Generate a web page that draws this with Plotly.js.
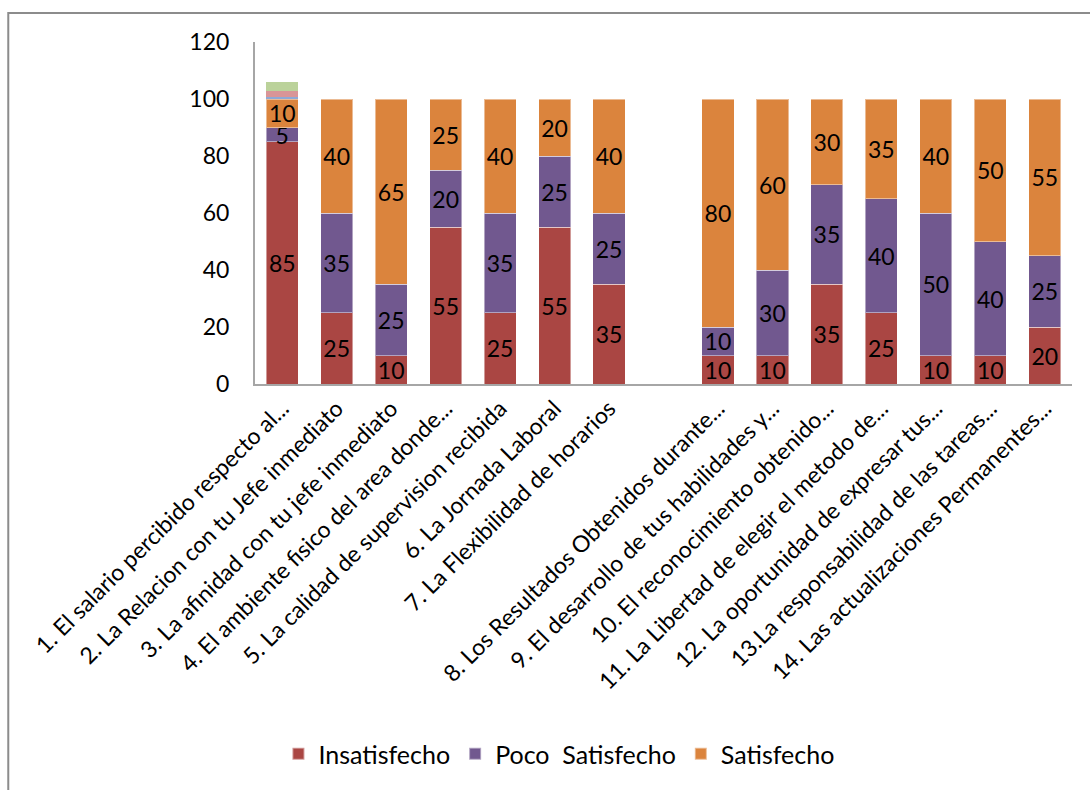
<!DOCTYPE html>
<html>
<head>
<meta charset="utf-8">
<script src="https://cdn.plot.ly/plotly-3.0.1.min.js"></script>
<style>html,body{margin:0;padding:0;background:#fff;}#chart{width:1090px;height:790px;}</style>
</head>
<body>
<div id="chart"></div>
<script>
var categories = [
  "1. El salario percibido respecto al...",
  "2. La Relacion con tu Jefe inmediato",
  "3. La afinidad con tu jefe inmediato",
  "4. El ambiente fisico del area donde...",
  "5. La calidad de supervision recibida",
  "6. La Jornada Laboral",
  "7. La Flexibilidad de horarios",
  " ",
  "8. Los Resultados Obtenidos durante...",
  "9. El desarrollo de tus habilidades y...",
  "10. El reconocimiento obtenido...",
  "11. La Libertad de elegir el metodo de...",
  "12. La oportunidad de expresar tus...",
  "13.La responsabilidad de las tareas...",
  "14. Las actualizaciones Permanentes..."
];
var insatisfecho     = [85, 25, 10, 55, 25, 55, 35, null, 10, 10, 35, 25, 10, 10, 20];
var pocoSatisfecho   = [5, 35, 25, 20, 35, 25, 25, null, 10, 30, 35, 40, 50, 40, 25];
var satisfecho       = [10, 40, 65, 25, 40, 20, 40, null, 80, 60, 30, 35, 40, 50, 55];
var extraA           = [0.7, null, null, null, null, null, null, null, null, null, null, null, null, null, null];
var extraB           = [2.2, null, null, null, null, null, null, null, null, null, null, null, null, null, null];
var extraC           = [3.2, null, null, null, null, null, null, null, null, null, null, null, null, null, null];
var yTicks = [0, 20, 40, 60, 80, 100, 120];

var font = "Lato, 'Open Sans', sans-serif";
var lineCol = 'rgba(255,255,255,0.45)';
function mainTrace(name, vals, color) {
  return {
    type: 'bar', name: name, x: categories, y: vals,
    marker: {color: color, line: {color: lineCol, width: 1}},
    text: vals.map(function(v){ return v == null ? '' : String(v); }),
    textposition: 'inside', insidetextanchor: 'middle', textangle: 0,
    constraintext: 'none',
    insidetextfont: {family: font, size: 23, color: '#000'},
    hoverinfo: 'skip'
  };
}
function extraTrace(vals, color) {
  return {
    type: 'bar', name: '', x: categories, y: vals, showlegend: false,
    marker: {color: color, line: {width: 0}}, textposition: 'none', hoverinfo: 'skip'
  };
}
var data = [
  mainTrace('Insatisfecho', insatisfecho, '#AA4643'),
  mainTrace('Poco  Satisfecho', pocoSatisfecho, '#71588F'),
  mainTrace('Satisfecho', satisfecho, '#DB843D'),
  extraTrace(extraA, '#8EA9D6'),
  extraTrace(extraB, '#D99597'),
  extraTrace(extraC, '#BBD29A')
];
var layout = {
  width: 1090, height: 790,
  margin: {l: 255, r: 18, t: 42, b: 405.5},
  paper_bgcolor: '#fff', plot_bgcolor: '#fff',
  barmode: 'stack', bargap: 0.41,
  showlegend: true,
  uniformtext: {mode: 'show', minsize: 23},
  font: {family: font, size: 23, color: '#000'},
  xaxis: {
    type: 'category', tickangle: -45, showgrid: false, zeroline: false,
    showline: true, linecolor: '#A6A6A6', linewidth: 2, ticks: '',
    tickfont: {family: font, size: 23, color: '#000'}, automargin: false
  },
  yaxis: {
    range: [0, 120], tickvals: yTicks, ticktext: yTicks.map(String),
    showgrid: false, zeroline: false, showline: true, linecolor: '#A6A6A6', linewidth: 2,
    ticks: '', ticklabelstandoff: 19,
    tickfont: {family: font, size: 23, color: '#000'}, automargin: false
  },
  legend: {
    orientation: 'h', x: 0.372, xanchor: 'center', y: -1.082, yanchor: 'middle',
    font: {family: font, size: 25, color: '#000'}, traceorder: 'normal',
    itemsizing: 'constant', itemwidth: 30
  },
  shapes: [{
    type: 'rect', xref: 'paper', yref: 'paper',
    x0: -0.302, x1: 1.1, y0: -1.3, y1: 1.085,
    line: {color: '#8C8C8C', width: 2}, fillcolor: 'rgba(0,0,0,0)'
  }]
};
Plotly.newPlot('chart', data, layout, {staticPlot: true, displayModeBar: false});
</script>
</body>
</html>
